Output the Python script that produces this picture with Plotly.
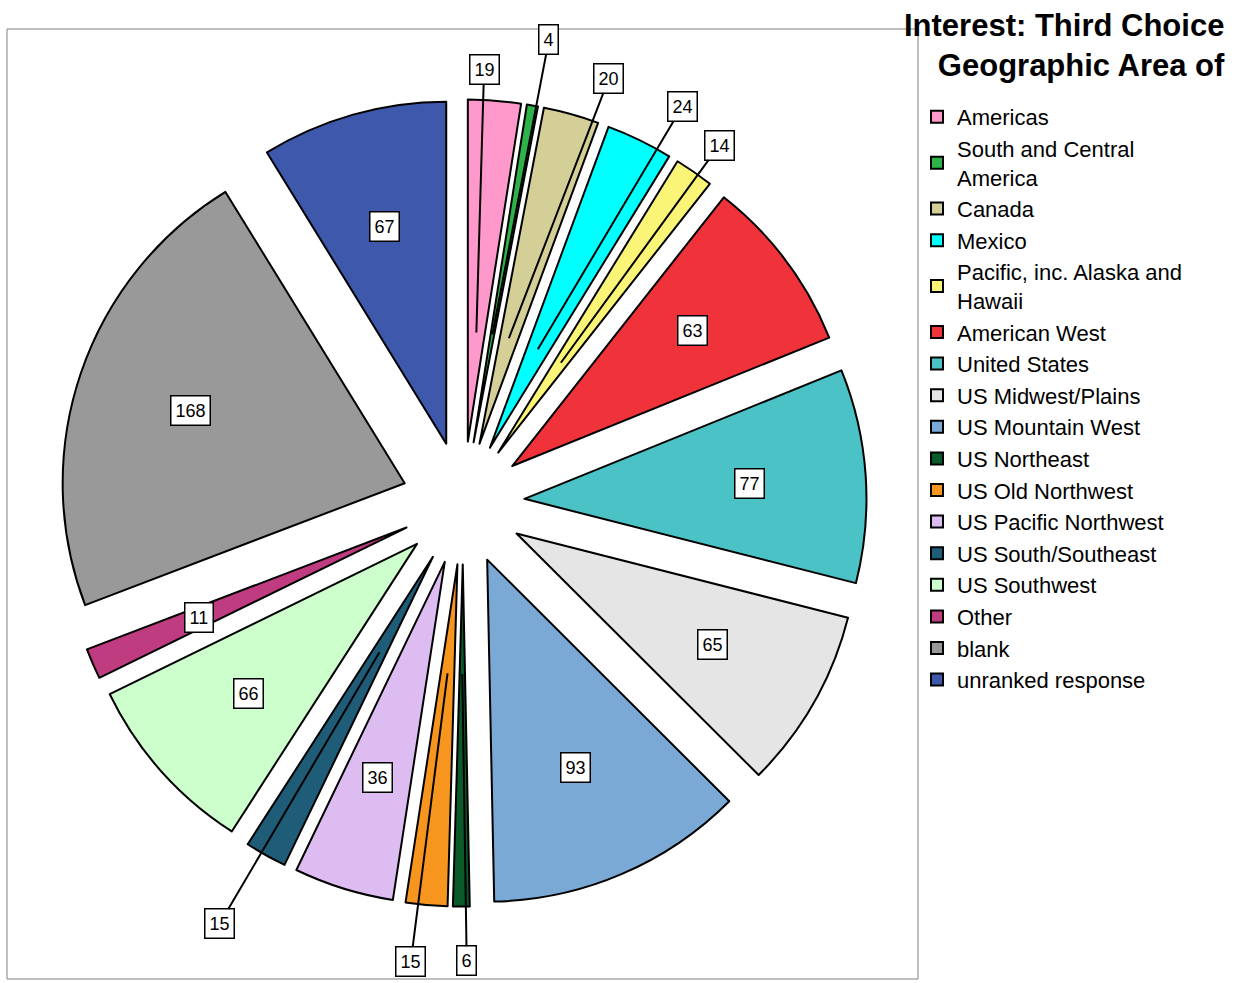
import math
import plotly.graph_objects as go

# ---- data ----
categories = ["Americas", "South and Central America", "Canada", "Mexico",
              "Pacific, inc. Alaska and Hawaii", "American West", "United States",
              "US Midwest/Plains", "US Mountain West", "US Northeast", "US Old Northwest",
              "US Pacific Northwest", "US South/Southeast", "US Southwest", "Other",
              "blank", "unranked response"]
legend_text = ["Americas", "South and Central<br>America", "Canada", "Mexico",
               "Pacific, inc. Alaska and<br>Hawaii", "American West", "United States",
               "US Midwest/Plains", "US Mountain West", "US Northeast", "US Old Northwest",
               "US Pacific Northwest", "US South/Southeast", "US Southwest", "Other",
               "blank", "unranked response"]
values = [19, 4, 20, 24, 14, 63, 77, 65, 93, 6, 15, 36, 15, 66, 11, 168, 67]
colors = ["#FF99CC", "#2DB34A", "#D4CF97", "#00FFFF", "#FAF577", "#F0333A", "#4BC3C6",
          "#E5E5E5", "#7BA9D6", "#0B5A2A", "#F7961E", "#DDBDF1", "#1F5C78", "#CCFFCC",
          "#BF3C80", "#999999", "#3E58AC"]
title_text = "Interest: Third Choice<br>Geographic Area of"

# ---- layout constants ----
W_FIG, H_FIG = 1250, 983
M_L, M_R, M_T, M_B = 7, 332, 29, 4
PLOT_W = W_FIG - M_L - M_R
PLOT_H = H_FIG - M_T - M_B
PULL = 0.18
DOM_X = [0.0575, 0.9436]
DOM_Y = [0.0762, 0.9259]
FONT = "Liberation Sans, Arial, sans-serif"

# outside labels: (angle offset from slice mid-angle in degrees, radius in px)
outside_place = {
    "Americas": (-1.7, 434), "South and Central America": (0.6, 471),
    "Canada": (3.4, 449), "Mexico": (3.0, 453),
    "Pacific, inc. Alaska and Hawaii": (0.7, 440),
    "US Northeast": (-0.7, 458), "US Old Northwest": (1.3, 461),
    "US South/Southeast": (0.8, 486),
}
ANCHOR_FRAC = 0.32
INSIDE_FRAC = 0.66

# geometry of the pie as plotly computes it
box_w = PLOT_W * (DOM_X[1] - DOM_X[0])
box_h = PLOT_H * (DOM_Y[1] - DOM_Y[0])
R = min(box_w, box_h) / (2 + 2 * PULL)
cx = M_L + PLOT_W * (DOM_X[0] + DOM_X[1]) / 2
cy = M_T + PLOT_H * (1 - DOM_Y[0]) - box_h / 2
pull_px = PULL * R


def to_paper(px, py):
    return (px - M_L) / PLOT_W, (M_T + PLOT_H - py) / PLOT_H


def polar(theta_deg, r):
    t = math.radians(theta_deg)
    return cx + r * math.sin(t), cy - r * math.cos(t)


total = sum(values)
annotations = []
cum = 0
for cat, v in zip(categories, values):
    mid = (cum + v / 2) / total * 360
    cum += v
    box = dict(bgcolor="white", bordercolor="black", borderwidth=1.5, borderpad=4,
               font=dict(family=FONT, size=18, color="black"))
    if cat in outside_place:
        off, rl = outside_place[cat]
        apx, apy = polar(mid, pull_px + ANCHOR_FRAC * R)
        lpx, lpy = polar(mid + off, rl)
        ax_, ay_ = to_paper(apx, apy)
        annotations.append(dict(text=str(v), x=ax_, y=ay_, xref="paper", yref="paper",
                                showarrow=True, arrowhead=0, arrowwidth=2, arrowcolor="black",
                                ax=lpx - apx, ay=lpy - apy, **box))
    else:
        lpx, lpy = polar(mid, pull_px + INSIDE_FRAC * R)
        x_, y_ = to_paper(lpx, lpy)
        annotations.append(dict(text=str(v), x=x_, y=y_, xref="paper", yref="paper",
                                showarrow=False, xanchor="center", yanchor="middle", **box))

annotations.append(dict(text="<b>" + title_text.replace("<br>", "</b><br><b>") + "</b>",
                        x=(1227 - M_L) / PLOT_W, y=(M_T + PLOT_H - 6) / PLOT_H,
                        xref="paper", yref="paper", xanchor="right", yanchor="top",
                        align="right", showarrow=False,
                        font=dict(family=FONT, size=31, color="black")))

fig = go.Figure(go.Pie(
    labels=legend_text, values=values, sort=False, direction="clockwise", rotation=0,
    pull=PULL, textinfo="none", hoverinfo="label+value",
    marker=dict(colors=colors, line=dict(color="black", width=2)),
    domain=dict(x=DOM_X, y=DOM_Y),
))

fig.update_layout(
    width=W_FIG, height=H_FIG,
    margin=dict(l=M_L, r=M_R, t=M_T, b=M_B),
    paper_bgcolor="white", plot_bgcolor="white",
    font=dict(family=FONT, color="black"),
    showlegend=True,
    legend=dict(x=(917 - M_L) / PLOT_W, y=(M_T + PLOT_H - 96) / PLOT_H,
                xanchor="left", yanchor="top", font=dict(family=FONT, size=22, color="black"),
                bgcolor="rgba(0,0,0,0)"),
    annotations=annotations,
    shapes=[dict(type="rect", xref="paper", yref="paper", x0=0, y0=0, x1=1, y1=1,
                 line=dict(color="#808080", width=1), layer="below")],
)

fig.write_html("out.html", config={"displayModeBar": False},
               post_script="document.body.style.margin='0px';document.body.style.padding='0px';")
